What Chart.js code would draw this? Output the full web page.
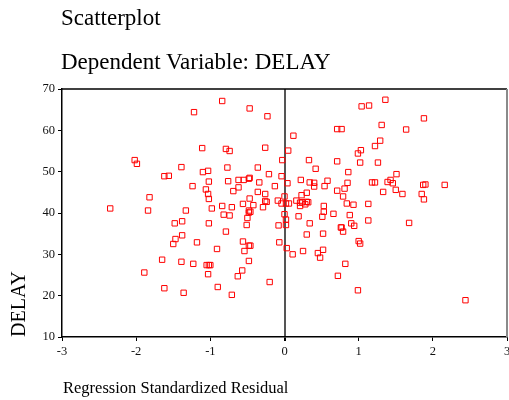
<!DOCTYPE html>
<html lang="en">
<head>
    <meta charset="UTF-8">
    <title>Scatterplot - Dependent Variable: DELAY</title>
    <script src="https://cdn.jsdelivr.net/npm/chart.js"></script>
    <style>
        * { font-family: 'Liberation Serif', 'Times New Roman', serif; }
        body { margin: 0; background: #fff; }
        #wrap { position: relative; width: 509px; height: 400px; overflow: hidden; }
        #wrap canvas { position: absolute; left: 0; top: 0; }
        .lbl { position: absolute; white-space: nowrap; line-height: 1; color: #000; }
    </style>
</head>
<body>
    <div id="wrap">
        <canvas id="scatter" width="509" height="400"></canvas>
        <div class="lbl" style="left:61px; top:6px; font-size:23px;">Scatterplot</div>
        <div class="lbl" style="left:61px; top:50px; font-size:23px;">Dependent Variable: DELAY</div>
        <div class="lbl" style="left:0; top:0; font-size:20px; transform-origin:0 0; transform:translate(8px,337px) rotate(-90deg);">DELAY</div>
        <div class="lbl" style="left:63px; top:380px; font-size:16.5px;">Regression Standardized Residual</div>
    </div>

    <script>
        // regression standardized residual (x) and DELAY (y)
        const residual = [
            -1.22, -1.11, -2.02, -1.99, -1.39, -1.10, -1.03, -1.62, -1.56, -1.24,
            -1.06, -1.03, -1.02, -1.02, -1.82, -2.35, -1.84, -1.33, -1.48, -1.38,
            -1.02, -1.47, -1.38, -1.50, -1.18, -1.65, -1.39, -1.23, -1.05, -1.02,
            -1.00, -1.03, -1.89, -1.62, -1.36, -0.84, -0.47, -0.23, -0.79, -0.74,
            -0.26, -0.03, -0.77, -0.36, -0.21, -0.04, -0.76, -0.62, -0.55, -0.48,
            -0.47, -0.34, -0.13, -0.62, -0.69, -0.36, -0.26, 0.00, -0.47, -0.26,
            -0.24, -0.09, -0.04, 0.02, -0.56, -0.42, -0.98, -0.84, -0.71, -0.29,
            -0.48, -0.46, -0.48, -0.82, -0.74, -0.50, 0.00, 0.02, -0.51, -0.08,
            0.02, -0.79, -0.56, -0.48, -0.46, -0.07, 0.03, -0.91, -0.54, -0.48,
            -0.57, -0.63, -0.20, -0.90, -0.71, 0.71, 0.77, 0.12, 0.05, 1.03,
            0.99, 0.33, 0.71, 1.02, 0.42, 0.86, 0.22, 0.04, 0.34, 0.40,
            0.40, 0.58, 0.54, 0.85, 0.81, 0.71, 0.30, 0.23, 0.79, 0.16,
            0.21, 0.24, 0.30, 0.32, 0.28, 0.21, 0.06, 0.84, 0.93, 0.53,
            0.53, 0.66, 0.88, 0.19, 0.51, 0.34, 0.90, 0.94, 0.76, 0.77,
            0.79, 0.30, 0.52, 1.00, 1.02, 0.11, 0.25, 0.45, 0.52, 0.48,
            0.82, 0.72, 0.99, 1.36, 1.04, 1.14, 1.88, 1.31, 1.64, 1.29,
            1.22, 1.26, 1.51, 1.18, 1.22, 1.39, 1.43, 1.46, 1.87, 1.90,
            1.50, 1.33, 1.59, 1.85, 1.88, 1.13, 1.13, 1.68, 2.16, 2.44
        ];
        const delay = [
            64.4, 55.7, 52.8, 51.9, 51.1, 49.9, 50.2, 48.9, 49.0, 46.5,
            45.7, 44.6, 43.4, 47.6, 43.8, 41.1, 40.6, 40.6, 37.5, 38.0,
            37.5, 33.7, 34.6, 32.5, 32.9, 28.7, 28.2, 27.7, 27.4, 27.4,
            27.4, 25.2, 25.6, 21.8, 20.7, 67.1, 65.3, 63.4, 55.5, 55.0,
            55.8, 52.8, 51.0, 51.0, 49.4, 48.9, 47.7, 48.0, 48.0, 48.3,
            48.5, 47.4, 46.5, 46.2, 45.3, 45.1, 44.6, 44.0, 43.5, 42.9,
            42.7, 43.0, 42.3, 42.3, 42.2, 41.9, 41.1, 41.7, 41.4, 41.4,
            40.6, 40.3, 40.1, 39.6, 39.4, 38.8, 39.7, 38.4, 37.1, 37.0,
            37.1, 35.5, 33.1, 32.1, 32.1, 32.9, 31.5, 31.3, 30.8, 28.4,
            26.1, 24.7, 23.3, 22.1, 20.2, 60.3, 60.3, 58.7, 55.1, 55.2,
            54.4, 52.8, 52.5, 52.2, 50.7, 49.9, 48.0, 47.2, 47.4, 47.3,
            46.4, 47.8, 46.5, 47.3, 45.9, 45.4, 44.9, 44.3, 44.0, 43.0,
            42.5, 42.6, 42.7, 42.6, 42.1, 41.7, 42.3, 42.3, 42.0, 41.7,
            40.3, 39.8, 39.5, 39.2, 39.1, 37.5, 37.5, 36.9, 36.5, 36.5,
            35.5, 34.8, 35.0, 33.2, 32.6, 30.0, 30.8, 30.3, 31.1, 29.2,
            27.7, 24.8, 21.3, 67.4, 65.8, 66.0, 62.9, 61.3, 60.2, 57.5,
            56.2, 52.2, 49.4, 47.4, 47.4, 47.5, 48.0, 47.2, 46.8, 46.9,
            45.6, 45.1, 44.6, 44.6, 43.3, 42.2, 38.2, 37.6, 46.8, 18.9
        ];
        const xRange = [-3, 3];
        const yRange = [10, 70];

        const points = residual.map((r, i) => ({ x: r, y: delay[i] }));

        // top and right edges of the plot frame
        const frame = {
            id: 'frame',
            afterDraw(chart) {
                const { ctx, chartArea: a } = chart;
                ctx.save();
                ctx.lineWidth = 1.5;
                ctx.strokeStyle = '#000';
                ctx.beginPath();
                ctx.moveTo(a.left, a.top);
                ctx.lineTo(a.right, a.top);
                ctx.stroke();
                ctx.lineWidth = 2;
                ctx.strokeStyle = '#8a8a8a';
                ctx.beginPath();
                ctx.moveTo(a.right, a.top);
                ctx.lineTo(a.right, a.bottom);
                ctx.stroke();
                ctx.restore();
            }
        };

        const tickFont = { family: "'Liberation Serif', serif", size: 12.5 };

        new Chart(document.getElementById('scatter'), {
            type: 'scatter',
            data: {
                datasets: [{
                    data: points,
                    pointStyle: 'rect',
                    pointRadius: 3.8,
                    borderWidth: 1,
                    borderColor: '#ff0000',
                    backgroundColor: 'rgba(255,255,255,0)'
                }]
            },
            options: {
                responsive: false,
                animation: false,
                devicePixelRatio: 1,
                layout: { autoPadding: false, padding: { top: 89, right: 2, bottom: 0, left: 0 } },
                plugins: {
                    legend: { display: false },
                    tooltip: { enabled: false }
                },
                scales: {
                    x: {
                        type: 'linear',
                        min: xRange[0],
                        max: xRange[1],
                        afterFit: s => { s.height = 63; s.paddingLeft = 0; s.paddingRight = 0; },
                        ticks: { stepSize: 1, padding: 3, color: '#111', font: tickFont, maxRotation: 0 },
                        border: { color: '#000', width: 1.5 },
                        grid: {
                            drawOnChartArea: true,
                            tickLength: 4,
                            tickColor: '#000',
                            lineWidth: c => (c.tick && c.tick.value === 0 ? 2 : 1),
                            color: c => (c.tick && c.tick.value === 0 ? '#555' : 'rgba(0,0,0,0)')
                        }
                    },
                    y: {
                        min: yRange[0],
                        max: yRange[1],
                        afterFit: s => { s.width = 62; s.paddingTop = 0; s.paddingBottom = 0; },
                        ticks: { stepSize: 10, padding: 3, color: '#111', font: tickFont },
                        border: { color: '#000', width: 1.5 },
                        grid: { drawOnChartArea: false, tickLength: 4, tickColor: '#000' }
                    }
                }
            },
            plugins: [frame]
        });
    </script>
</body>
</html>
